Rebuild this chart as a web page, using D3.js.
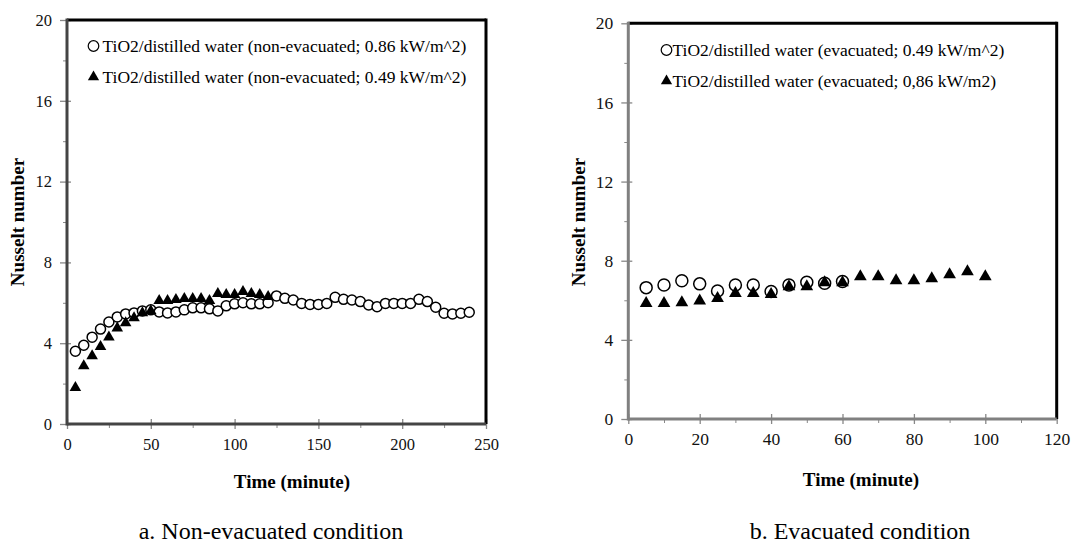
<!DOCTYPE html>
<html><head><meta charset="utf-8">
<script src="https://cdn.jsdelivr.net/npm/d3@7"></script>
<style>body{margin:0;background:#fff}</style>
</head><body><svg id="c" width="1075" height="544" font-family="Liberation Serif"></svg>
<script>
// ---- Data: panel a (non-evacuated)
const timeA_circ = [5,10,15,20,25,30,35,40,45,50,55,60,65,70,75,80,85,90,95,100,105,110,115,120,125,130,135,140,145,150,155,160,165,170,175,180,185,190,195,200,205,210,215,220,225,230,235,240];
const nuA_circ = [3.6,3.9,4.3,4.7,5.05,5.3,5.45,5.5,5.6,5.65,5.55,5.5,5.55,5.65,5.75,5.75,5.7,5.6,5.85,5.95,6.0,5.95,5.95,6.0,6.34,6.22,6.14,5.97,5.92,5.92,5.97,6.27,6.17,6.14,6.06,5.89,5.81,5.97,5.97,5.97,5.97,6.17,6.06,5.78,5.48,5.45,5.48,5.53];
const timeA_tri = [5,10,15,20,25,30,35,40,45,50,55,60,65,70,75,80,85,90,95,100,105,110,115,120];
const nuA_tri = [1.8,2.87,3.37,3.83,4.3,4.75,5.0,5.25,5.5,5.6,6.1,6.1,6.15,6.2,6.2,6.2,6.1,6.45,6.4,6.4,6.55,6.45,6.4,6.3];
const labelA_circ = "TiO2/distilled water (non-evacuated; 0.86 kW/m^2)";
const labelA_tri = "TiO2/distilled water (non-evacuated; 0.49 kW/m^2)";
const xTicksA = [0,50,100,150,200,250];
const yTicks = [0,4,8,12,16,20];

// ---- Data: panel b (evacuated)
const timeB_circ = [5,10,15,20,25,30,35,40,45,50,55,60];
const nuB_circ = [6.64,6.77,6.99,6.83,6.47,6.77,6.77,6.44,6.77,6.91,6.86,6.95];
const timeB_tri = [5,10,15,20,25,30,35,40,45,50,55,60,65,70,75,80,85,90,95,100];
const nuB_tri = [5.85,5.85,5.88,5.97,6.1,6.35,6.35,6.3,6.69,6.69,6.9,6.9,7.2,7.2,7.0,7.0,7.1,7.3,7.45,7.2];
const labelB_circ = "TiO2/distilled water (evacuated; 0.49 kW/m^2)";
const labelB_tri = "TiO2/distilled water (evacuated; 0,86 kW/m2)";
const xTicksB = [0,20,40,60,80,100,120];

const FONT = "Liberation Serif";
const svg = d3.select("#c");

function panel(o){
  const x = d3.scaleLinear().domain(o.xDom).range([o.x0,o.x1]);
  const y = d3.scaleLinear().domain([0,20]).range([o.y0,o.y1]);
  const g = svg.append("g").attr("font-family",FONT);
  // minor ticks
  g.append("g").attr("transform",`translate(0,${o.y0})`)
    .call(d3.axisBottom(x).tickValues(o.xMinor).tickSize(4).tickFormat(""))
    .call(s=>{s.select(".domain").remove();s.selectAll("line").attr("stroke","#888").attr("stroke-width",1);});
  g.append("g").attr("transform",`translate(${o.x0},0)`)
    .call(d3.axisLeft(y).tickValues([2,6,10,14,18]).tickSize(4).tickFormat(""))
    .call(s=>{s.select(".domain").remove();s.selectAll("line").attr("stroke","#888").attr("stroke-width",1);});
  // major ticks (cross)
  const xa = g.append("g").attr("transform",`translate(0,${o.y0})`)
    .call(d3.axisBottom(x).tickValues(o.xTicks).tickSize(5).tickPadding(9).tickFormat(d3.format("d")));
  xa.attr("font-family",FONT);
  xa.select(".domain").remove();
  xa.selectAll("line").attr("y1",-5).attr("stroke","#888").attr("stroke-width",1.3);
  xa.selectAll("text").attr("font-size",o.fs).attr("fill","#111").attr("font-family",FONT);
  const ya = g.append("g").attr("transform",`translate(${o.x0},0)`)
    .call(d3.axisLeft(y).tickValues(yTicks).tickSize(7).tickPadding(8).tickFormat(d3.format("d")));
  ya.attr("font-family",FONT);
  ya.select(".domain").remove();
  ya.selectAll("line").attr("x1",-7).attr("x2",4).attr("stroke","#888").attr("stroke-width",1.3);
  ya.selectAll("text").attr("font-size",o.fs).attr("fill","#111").attr("font-family",FONT);
  // frame
  g.append("line").attr("x1",o.x0).attr("x2",o.x1).attr("y1",o.y1).attr("y2",o.y1).attr("stroke","#000").attr("stroke-width",3);
  g.append("line").attr("x1",o.x1).attr("x2",o.x1).attr("y1",o.y1-1.5).attr("y2",o.y0).attr("stroke","#000").attr("stroke-width",3);
  g.append("line").attr("x1",o.x0).attr("x2",o.x0).attr("y1",o.y1-1.5).attr("y2",o.y0+1.5).attr("stroke",o.axisCol).attr("stroke-width",3);
  g.append("line").attr("x1",o.x0).attr("x2",o.x1).attr("y1",o.y0).attr("y2",o.y0).attr("stroke",o.axisCol).attr("stroke-width",3);
  // data
  g.selectAll("circle.d").data(o.tc.map((t,i)=>[t,o.vc[i]])).join("circle")
    .attr("cx",d=>x(d[0])).attr("cy",d=>y(d[1])).attr("r",o.r)
    .attr("fill","#fff").attr("stroke","#000").attr("stroke-width",1.5);
  const tri = d3.symbol().type(d3.symbolTriangle).size(o.triSize);
  g.selectAll("path.t").data(o.tt.map((t,i)=>[t,o.vt[i]])).join("path")
    .attr("d",tri).attr("transform",d=>`translate(${x(d[0])},${y(d[1])})`).attr("fill","#000");
  // legend
  const lg = g.append("g");
  const ltri = d3.symbol().type(d3.symbolTriangle).size(55);
  lg.append("circle").attr("cx",o.lx).attr("cy",o.ly).attr("r",5.3).attr("fill","#fff").attr("stroke","#000").attr("stroke-width",1.2);
  lg.append("path").attr("d",ltri).attr("transform",`translate(${o.lx},${o.ly+31})`).attr("fill","#000");
  lg.append("text").attr("x",o.lx+o.ltx).attr("y",o.ly+6).attr("font-size",o.lfs).attr("font-family",FONT).text(o.lc);
  lg.append("text").attr("x",o.lx+o.ltx).attr("y",o.ly+37).attr("font-size",o.lfs).attr("font-family",FONT).text(o.lt);
  // axis titles
  g.append("text").attr("x",o.xtX).attr("y",o.xtY).attr("text-anchor","middle").attr("font-family",FONT)
    .attr("font-weight","bold").attr("font-size",o.tfs).text("Time (minute)");
  g.append("text").attr("transform",`translate(${o.ytX},${o.ytY}) rotate(-90)`).attr("text-anchor","middle").attr("font-family",FONT)
    .attr("font-weight","bold").attr("font-size",o.tfs).text("Nusselt number");
  g.append("text").attr("x",o.capX).attr("y",539).attr("text-anchor","middle").attr("font-family",FONT).attr("font-size",24).text(o.cap);
}

panel({xDom:[0,250],x0:67,x1:486,y0:424,y1:20,xTicks:xTicksA,xMinor:[25,75,125,175,225],
  tc:timeA_circ,vc:nuA_circ,tt:timeA_tri,vt:nuA_tri,triSize:58,r:5,axisCol:"#444",
  lx:93.5,ly:46,ltx:9,lc:labelA_circ,lt:labelA_tri,fs:16.5,lfs:17.5,tfs:19,xtX:292,xtY:488,ytX:24,ytY:222,
  capX:271,cap:"a.  Non-evacuated condition"});
panel({xDom:[0,120],x0:628.3,x1:1056.7,y0:419,y1:23.3,xTicks:xTicksB,xMinor:[10,30,50,70,90,110],
  tc:timeB_circ,vc:nuB_circ,tt:timeB_tri,vt:nuB_tri,triSize:70,r:6,axisCol:"#808080",
  lx:666.5,ly:50,ltx:6,lc:labelB_circ,lt:labelB_tri,fs:17.5,lfs:17.5,tfs:19,xtX:861,xtY:486,ytX:585,ytY:222,
  capX:860,cap:"b. Evacuated condition"});
</script></body></html>
